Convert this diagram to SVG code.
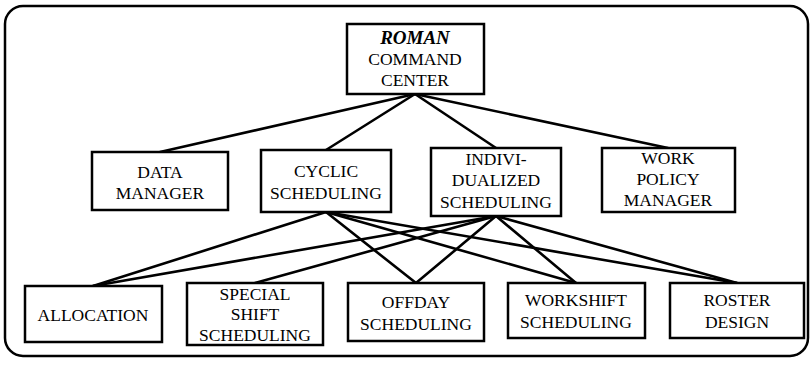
<svg xmlns="http://www.w3.org/2000/svg" width="812" height="367" viewBox="0 0 812 367">
<style>
.box{fill:#fff;stroke:#000;stroke-width:2.5}
.t{font-family:"Liberation Serif","Times New Roman",serif;font-size:17.5px;text-anchor:middle;fill:#000}
.ti{font-style:italic;font-weight:bold;font-size:19px}
.c line{stroke:#000;stroke-width:2.6;stroke-linecap:round}
</style>
<rect x="0" y="0" width="812" height="367" fill="#fff"/>
<rect x="5" y="6" width="803" height="350" rx="18" fill="none" stroke="#000" stroke-width="2.5"/>
<g class="c" id="connectors">
<line x1="415" y1="94" x2="160" y2="152"/>
<line x1="415" y1="94" x2="326" y2="150"/>
<line x1="415" y1="94" x2="496" y2="148"/>
<line x1="415" y1="94" x2="668" y2="148"/>
<line x1="326" y1="212" x2="93" y2="286"/>
<line x1="326" y1="212" x2="416" y2="283"/>
<line x1="326" y1="212" x2="576" y2="283"/>
<line x1="326" y1="212" x2="737" y2="283"/>
<line x1="496" y1="216" x2="93" y2="286"/>
<line x1="496" y1="216" x2="255" y2="283"/>
<line x1="496" y1="216" x2="416" y2="283"/>
<line x1="496" y1="216" x2="576" y2="283"/>
<line x1="496" y1="216" x2="737" y2="283"/>
</g>
<g id="roman">
<rect class="box" x="347" y="24" width="137" height="70"/>
<text class="t ti" x="415" y="44">ROMAN</text>
<text class="t" x="415" y="65">COMMAND</text>
<text class="t" x="415" y="86">CENTER</text>
</g>
<g id="data-manager">
<rect class="box" x="92" y="152" width="136" height="58"/>
<text class="t" x="160" y="178">DATA</text>
<text class="t" x="160" y="199">MANAGER</text>
</g>
<g id="cyclic">
<rect class="box" x="261" y="150" width="130" height="62"/>
<text class="t" x="326" y="177">CYCLIC</text>
<text class="t" x="326" y="199">SCHEDULING</text>
</g>
<g id="individualized">
<rect class="box" x="431" y="148" width="130" height="68"/>
<text class="t" x="496" y="165">INDIVI-</text>
<text class="t" x="496" y="186">DUALIZED</text>
<text class="t" x="496" y="208">SCHEDULING</text>
</g>
<g id="work-policy">
<rect class="box" x="602" y="148" width="133" height="64"/>
<text class="t" x="668" y="164">WORK</text>
<text class="t" x="668" y="185">POLICY</text>
<text class="t" x="668" y="206">MANAGER</text>
</g>
<g id="allocation">
<rect class="box" x="25" y="286" width="137" height="56"/>
<text class="t" x="93" y="321">ALLOCATION</text>
</g>
<g id="special-shift">
<rect class="box" x="187" y="283" width="136" height="62"/>
<text class="t" x="255" y="300">SPECIAL</text>
<text class="t" x="255" y="320">SHIFT</text>
<text class="t" x="255" y="341">SCHEDULING</text>
</g>
<g id="offday">
<rect class="box" x="348" y="283" width="136" height="58"/>
<text class="t" x="416" y="308">OFFDAY</text>
<text class="t" x="416" y="330">SCHEDULING</text>
</g>
<g id="workshift">
<rect class="box" x="508" y="283" width="137" height="55"/>
<text class="t" x="576" y="306">WORKSHIFT</text>
<text class="t" x="576" y="328">SCHEDULING</text>
</g>
<g id="roster">
<rect class="box" x="670" y="283" width="134" height="55"/>
<text class="t" x="737" y="306">ROSTER</text>
<text class="t" x="737" y="328">DESIGN</text>
</g>
</svg>
